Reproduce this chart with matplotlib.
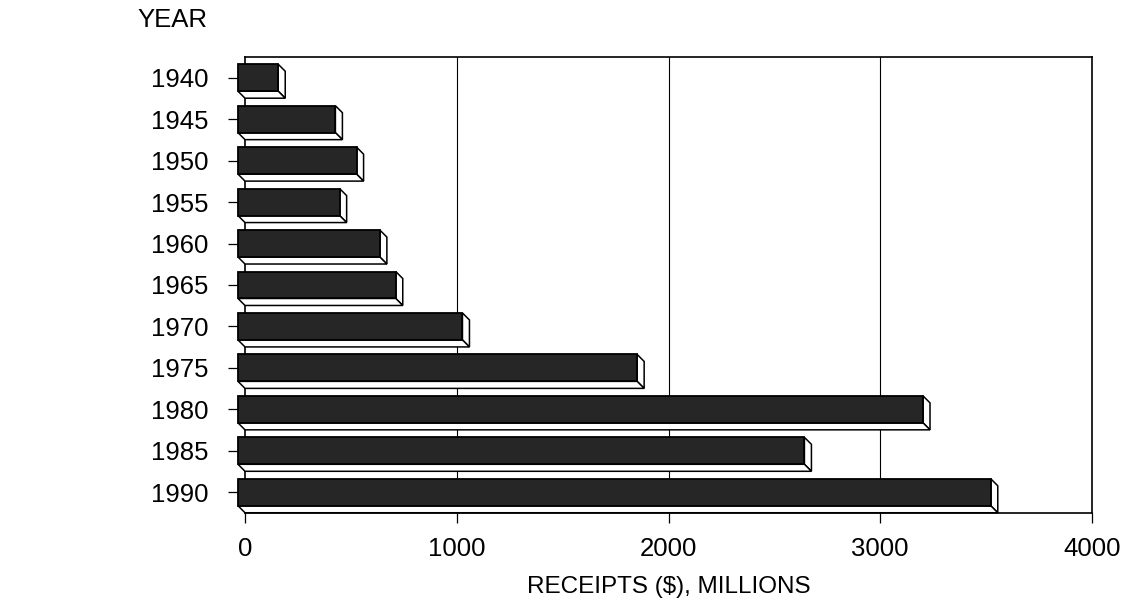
import matplotlib
matplotlib.use("Agg")
import matplotlib.pyplot as plt
from matplotlib.patches import Polygon, Rectangle

plt.rcParams['font.family'] = ['Liberation Sans', 'DejaVu Sans']

years = ['1940', '1945', '1950', '1955', '1960', '1965', '1970', '1975', '1980', '1985', '1990']
receipts = [190, 460, 560, 480, 670, 745, 1060, 1885, 3235, 2675, 3555]
x_ticks = [0, 1000, 2000, 3000, 4000]
x_label = 'RECEIPTS ($), MILLIONS'
y_title = 'YEAR'

W, H, DPI = 1126, 602, 100
fig = plt.figure(figsize=(W / DPI, H / DPI), dpi=DPI)
ax_l, ax_r, ax_t, ax_b = 245, 1092, 57, 513
ax = fig.add_axes([ax_l / W, 1 - ax_b / H, (ax_r - ax_l) / W, (ax_b - ax_t) / H])

xmin, xmax = 0, 4000
n = len(years)
ax.set_xlim(xmin, xmax)
ax.set_ylim(n - 0.5, -0.5)

# depth of 3D effect in pixels converted to data units
depth_px = 7
dx = depth_px * (xmax - xmin) / (ax_r - ax_l)
dy = depth_px * n / (ax_b - ax_t)
h = 0.65

for i, v in enumerate(receipts):
    top = i - h / 2
    bot = i + h / 2
    front = Rectangle((-dx, top), v, h, facecolor='#262626', edgecolor='black',
                      linewidth=1.3, zorder=4, clip_on=False)
    side = Polygon([(v - dx, top), (v, top + dy), (v, bot + dy), (v - dx, bot)],
                   closed=True, facecolor='white', edgecolor='black',
                   linewidth=1.1, zorder=3, clip_on=False)
    bottom = Polygon([(-dx, bot), (v - dx, bot), (v, bot + dy), (0, bot + dy)],
                     closed=True, facecolor='white', edgecolor='black',
                     linewidth=1.1, zorder=3, clip_on=False)
    ax.add_patch(side)
    ax.add_patch(bottom)
    ax.add_patch(front)

ax.set_yticks(range(n))
ax.set_yticklabels(years)
ax.set_xticks(x_ticks)
ax.set_xticklabels([str(t) for t in x_ticks])

for t in x_ticks[1:-1]:
    ax.axvline(t, color='black', linewidth=0.8, zorder=1)

for s in ax.spines.values():
    s.set_linewidth(1.2)
    s.set_color('black')

ax.tick_params(axis='y', direction='out', length=12.5, width=0.9, pad=14,
               labelsize=18.5, colors='black')
ax.tick_params(axis='x', direction='out', length=7, width=0.9, pad=10,
               labelsize=18.5, colors='black')

ax.set_xlabel(x_label, fontsize=17.5, labelpad=11)
fig.text(137 / W, 1 - 20 / H, y_title, fontsize=18.5, ha='left', va='center')

fig.savefig('out.png', dpi=DPI, facecolor='white')
